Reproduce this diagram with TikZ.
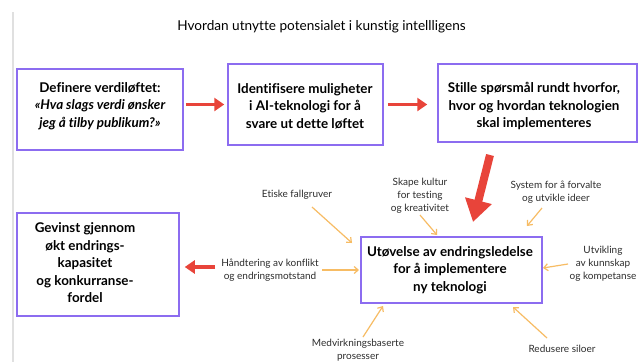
\documentclass[tikz,border=0pt]{standalone}
\usepackage{fontspec}
\setmainfont{Lato}[Ligatures=CommonOff]
\usetikzlibrary{arrows.meta}
\definecolor{boxviolet}{RGB}{140,108,240}
\definecolor{redarrow}{RGB}{232,68,58}
\definecolor{orangearrow}{RGB}{247,188,100}
\definecolor{labeltext}{RGB}{45,45,45}
\definecolor{sideline}{RGB}{224,224,224}

\begin{document}
\begin{tikzpicture}[x=1pt,y=-1pt,
  boxframe/.style={draw=boxviolet,line width=1.5pt,inner sep=0pt},
  boxtext/.style={align=center,font=\fontsize{13.4}{17.5}\selectfont\bfseries,inner sep=0pt},
  note/.style={align=center,font=\fontsize{10}{13}\selectfont,text=labeltext,inner sep=0pt},
  flow/.style={draw=redarrow,line width=3.5pt,-{Triangle[length=10pt,width=13pt]}},
  bigflow/.style={draw=redarrow,line width=8pt,-{Triangle[length=22pt,width=26pt]}},
  feed/.style={draw=orangearrow,line width=1.2pt,-{Straight Barb[length=4pt,width=7pt]}},
]
\useasboundingbox (0,0) rectangle (638,362);
\fill[white] (0,0) rectangle (638,362);

% margin rule on the left
\draw[sideline,line width=2pt] (13,12) -- (13,362);

% heading
\node[inner sep=0pt] (title) at (321.5,27)
  {\fontsize{13.6}{16}\selectfont Hvordan utnytte potensialet i kunstig intellligens};

% frames
\node[boxframe,minimum width=166pt,minimum height=81pt] (define) at (100,109.5) {};
\node[boxframe,minimum width=155pt,minimum height=81pt] (identify) at (305.5,104.5) {};
\node[boxframe,minimum width=199pt,minimum height=78pt] (ask) at (537.5,103) {};
\node[boxframe,minimum width=162pt,minimum height=103pt] (gain) at (98,264.5) {};
\node[boxframe,minimum width=181pt,minimum height=66pt] (practice) at (451.5,270) {};

% frame texts
\node[boxtext] (definetext) at (100,106)
  {Definere verdiløftet:\\ \itshape«Hva slags verdi ønsker\\ \itshape jeg å tilby publikum?»};
\node[boxtext] (identifytext) at (305,106)
  {Identifisere muligheter\\ i AI-teknologi for å\\ svare ut dette løftet};
\node[boxtext] (asktext) at (534,106)
  {Stille spørsmål rundt hvorfor,\\ hvor og hvordan teknologien\\ skal implementeres};
\node[boxtext] (gaintext) at (85,263)
  {Gevinst gjennom\\ økt endrings-\\ kapasitet\\ og konkurranse-\\ fordel};
\node[boxtext] (practicetext) at (450,270)
  {Utøvelse av endringsledelse\\ for å implementere\\ ny teknologi};

% surrounding factors
\node[note] (ethics) at (297,195) {Etiske fallgruver};
\node[note] (culture) at (420,196) {Skape kultur\\ for testing\\ og kreativitet};
\node[note] (ideas) at (556,192.5) {System for å forvalte\\ og utvikle ideer};
\node[note] (skills) at (603,264) {Utvikling\\ av kunnskap\\ og kompetanse};
\node[note] (silos) at (562,349) {Redusere siloer};
\node[note] (participation) at (358,350.5) {Medvirkningsbaserte\\ prosesser};
\node[note] (conflict) at (270,270.5) {Håndtering av konflikt\\ og endringsmotstand};

% main flow
\draw[flow,shorten <=2pt,shorten >=3pt] (define.east |- identify.west) -- (identify.west);
\draw[flow,shorten <=4pt,shorten >=10pt] (identify.east) -- (identify.east -| ask.west);
\coordinate (dropstart) at (490,155);
\coordinate (droptip) at (473,222);
\draw[bigflow] (dropstart) -- (droptip);
\coordinate (backstart) at (215,267);
\draw[flow,shorten >=5pt] (backstart) -- (gain.east |- backstart);

% factor arrows
\coordinate (ethicsA) at (312,207);  \coordinate (ethicsB) at (352,243);
\coordinate (cultureA) at (420,215); \coordinate (cultureB) at (437,235);
\coordinate (ideasA) at (542,208);   \coordinate (ideasB) at (527,226);
\coordinate (skillsA) at (568,264);  \coordinate (skillsB) at (543,268);
\coordinate (silosA) at (547,338);   \coordinate (silosB) at (513,307);
\coordinate (partA) at (363,337);    \coordinate (partB) at (383,306);
\coordinate (conflictA) at (322,270);\coordinate (conflictB) at (359,270);
\draw[feed] (ethicsA) -- (ethicsB);
\draw[feed] (cultureA) -- (cultureB);
\draw[feed] (ideasA) -- (ideasB);
\draw[feed] (skillsA) -- (skillsB);
\draw[feed] (silosA) -- (silosB);
\draw[feed] (partA) -- (partB);
\draw[feed] (conflictA) -- (conflictB);
\end{tikzpicture}
\end{document}
